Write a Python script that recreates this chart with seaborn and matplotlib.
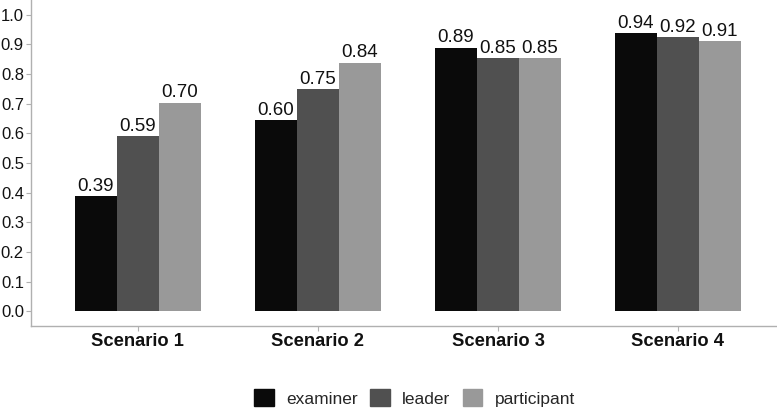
import matplotlib
matplotlib.use("Agg")
import matplotlib.pyplot as plt
import seaborn as sns
import pandas as pd

scenarios = ["Scenario 1", "Scenario 2", "Scenario 3", "Scenario 4"]
roles = ["examiner", "leader", "participant"]
examiner = [0.388, 0.645, 0.889, 0.938]
leader = [0.590, 0.749, 0.853, 0.925]
participant = [0.704, 0.839, 0.853, 0.910]
examiner_labels = ["0.39", "0.60", "0.89", "0.94"]
leader_labels = ["0.59", "0.75", "0.85", "0.92"]
participant_labels = ["0.70", "0.84", "0.85", "0.91"]
yticks = [0.0, 0.1, 0.2, 0.3, 0.4, 0.5, 0.6, 0.7, 0.8, 0.9, 1.0]
colors = ["#0a0a0a", "#505050", "#999999"]

rows = []
for r, vals in zip(roles, [examiner, leader, participant]):
    for s, v in zip(scenarios, vals):
        rows.append({"scenario": s, "role": r, "value": v})
df = pd.DataFrame(rows)

sns.set_theme(style="white")
plt.rcParams["font.family"] = ["Liberation Sans", "DejaVu Sans"]

fig = plt.figure(figsize=(7.77, 4.08), dpi=100)
ax = fig.add_axes([0.0399, 0.201, 0.9601, 0.799])
sns.barplot(data=df, x="scenario", y="value", hue="role", order=scenarios,
            hue_order=roles, palette=colors, width=0.7, gap=0, saturation=1,
            edgecolor="none", linewidth=0, ax=ax, legend=True)

for cont, labs in zip(ax.containers, [examiner_labels, leader_labels, participant_labels]):
    ax.bar_label(cont, labels=labs, padding=1, fontsize=13.5, color="#111111")

ax.set_ylim(-0.05, 1.05)
ax.set_xlim(-0.594, 3.55)
ax.set_yticks(yticks)
ax.set_yticklabels([f"{t:.1f}" for t in yticks])
ax.set_xlabel("")
ax.set_ylabel("")
for side in ["top", "right"]:
    ax.spines[side].set_visible(False)
for side in ["left", "bottom"]:
    ax.spines[side].set_color("#b0b0b0")
    ax.spines[side].set_linewidth(1.0)
ax.tick_params(axis="y", which="both", left=True, length=3.6, width=0.8,
               color="#b0b0b0", labelsize=12, labelcolor="#111111", pad=1.5)
ax.tick_params(axis="x", which="both", bottom=True, length=3.6, width=0.8,
               color="#b0b0b0", labelsize=13.2, labelcolor="#111111", pad=1.5)
for lab in ax.get_xticklabels():
    lab.set_fontweight("bold")

ax.legend_.remove()
handles = [plt.Rectangle((0, 0), 1, 1, color=c) for c in colors]
fig.legend(handles, roles, loc="center", bbox_to_anchor=(414.5 / 777, 10 / 408),
           ncol=3, frameon=False, fontsize=12.5, handlelength=1.15, handleheight=1.15,
           handletextpad=0.7, columnspacing=0.7, borderaxespad=0, borderpad=0)

fig.savefig("out.png", dpi=100)
